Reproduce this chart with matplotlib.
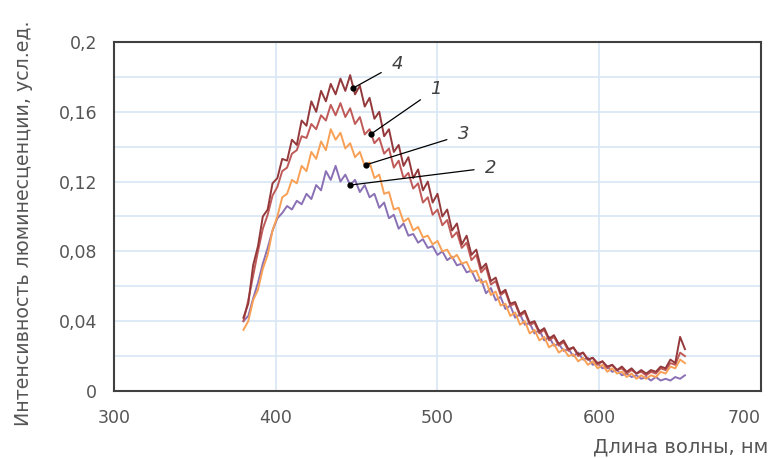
import numpy as np
import matplotlib
matplotlib.use("Agg")
import matplotlib.pyplot as plt
from matplotlib.ticker import MultipleLocator, FuncFormatter

# wavelength grid, nm (3 nm step)
wl = np.arange(380, 654, 3)

# luminescence spectra
curve4 = [0.042, 0.050, 0.072, 0.083, 0.100, 0.104, 0.119, 0.122, 0.133, 0.132,
          0.144, 0.141, 0.155, 0.152, 0.166, 0.160, 0.172, 0.166, 0.176, 0.170,
          0.179, 0.172, 0.181, 0.170, 0.175, 0.163, 0.168, 0.156, 0.160, 0.146,
          0.150, 0.137, 0.141, 0.129, 0.134, 0.122, 0.127, 0.115, 0.120, 0.108,
          0.113, 0.100, 0.104, 0.092, 0.096, 0.084, 0.089, 0.078, 0.081, 0.070,
          0.073, 0.063, 0.065, 0.056, 0.058, 0.050, 0.051, 0.044, 0.046, 0.039,
          0.040, 0.034, 0.036, 0.030, 0.032, 0.027, 0.029, 0.024, 0.025, 0.021,
          0.022, 0.018, 0.019, 0.016, 0.017, 0.014, 0.015, 0.012, 0.014, 0.011,
          0.013, 0.010, 0.012, 0.010, 0.012, 0.011, 0.014, 0.013, 0.018, 0.016,
          0.031, 0.024]
curve1 = [0.040, 0.052, 0.066, 0.080, 0.093, 0.101, 0.112, 0.117, 0.126, 0.128,
          0.136, 0.138, 0.146, 0.145, 0.153, 0.150, 0.158, 0.155, 0.164, 0.158,
          0.165, 0.157, 0.162, 0.153, 0.157, 0.147, 0.150, 0.142, 0.145, 0.136,
          0.139, 0.128, 0.132, 0.122, 0.125, 0.116, 0.119, 0.108, 0.111, 0.101,
          0.104, 0.095, 0.098, 0.088, 0.091, 0.082, 0.085, 0.075, 0.078, 0.068,
          0.071, 0.061, 0.063, 0.055, 0.057, 0.049, 0.050, 0.043, 0.045, 0.038,
          0.039, 0.033, 0.035, 0.029, 0.031, 0.026, 0.028, 0.023, 0.025, 0.020,
          0.022, 0.018, 0.019, 0.015, 0.017, 0.013, 0.015, 0.012, 0.013, 0.010,
          0.012, 0.010, 0.011, 0.009, 0.011, 0.010, 0.013, 0.012, 0.016, 0.015,
          0.022, 0.020]
curve3 = [0.035, 0.040, 0.052, 0.058, 0.070, 0.078, 0.092, 0.100, 0.111, 0.113,
          0.121, 0.119, 0.129, 0.126, 0.137, 0.133, 0.143, 0.138, 0.150, 0.144,
          0.148, 0.139, 0.142, 0.134, 0.137, 0.129, 0.131, 0.122, 0.124, 0.113,
          0.114, 0.104, 0.105, 0.097, 0.099, 0.092, 0.094, 0.088, 0.089, 0.084,
          0.086, 0.080, 0.081, 0.076, 0.078, 0.073, 0.074, 0.068, 0.069, 0.062,
          0.063, 0.055, 0.057, 0.049, 0.050, 0.043, 0.045, 0.038, 0.040, 0.033,
          0.035, 0.029, 0.031, 0.025, 0.027, 0.022, 0.024, 0.020, 0.021, 0.017,
          0.019, 0.015, 0.017, 0.013, 0.015, 0.011, 0.013, 0.010, 0.011, 0.008,
          0.010, 0.007, 0.009, 0.007, 0.009, 0.008, 0.011, 0.010, 0.014, 0.013,
          0.018, 0.016]
curve2 = [0.040, 0.043, 0.053, 0.062, 0.073, 0.082, 0.092, 0.099, 0.102, 0.106,
          0.104, 0.109, 0.107, 0.113, 0.110, 0.118, 0.115, 0.126, 0.121, 0.129,
          0.120, 0.124, 0.118, 0.121, 0.114, 0.118, 0.111, 0.113, 0.105, 0.108,
          0.099, 0.101, 0.093, 0.096, 0.089, 0.090, 0.085, 0.087, 0.082, 0.083,
          0.078, 0.080, 0.075, 0.077, 0.072, 0.073, 0.068, 0.069, 0.063, 0.064,
          0.056, 0.059, 0.052, 0.054, 0.047, 0.049, 0.042, 0.044, 0.038, 0.039,
          0.033, 0.035, 0.029, 0.031, 0.026, 0.027, 0.023, 0.024, 0.020, 0.022,
          0.018, 0.019, 0.015, 0.016, 0.013, 0.014, 0.011, 0.012, 0.009, 0.010,
          0.008, 0.009, 0.007, 0.008, 0.006, 0.008, 0.006, 0.007, 0.006, 0.008,
          0.007, 0.009]

# label, curve, colour, wavelength of the pointer dot, text position
labels = ["2", "3", "1", "4"]
curves = [curve2, curve3, curve1, curve4]
colors = ["#8a70b4", "#f8a055", "#bf5a58", "#94393b"]
dot_wl = [446, 456, 459, 448]
text_xy = [(533, 0.128), (516, 0.147), (499, 0.173), (475, 0.1875)]

x_ticks = [300, 400, 500, 600, 700]

fig = plt.figure(figsize=(7.72, 4.58), dpi=100)
ax = fig.add_axes([0.1477, 0.1463, 0.838, 0.762])

for lab, y, c in zip(labels, curves, colors):
    ax.plot(wl, y, color=c, lw=1.4, zorder=3)

for lab, y, xd, xt in zip(labels, curves, dot_wl, text_xy):
    yd = np.interp(xd, wl, y)
    ax.plot(xd, yd, "o", color="black", ms=3.5, zorder=5)
    ax.annotate(lab, xy=(xd, yd), xytext=xt, fontsize=13, style="italic",
                color="#404040", ha="center", va="center", zorder=5,
                arrowprops=dict(arrowstyle="-", color="black", lw=0.9,
                                shrinkA=6, shrinkB=0))

ax.set_xlim(300, 700)
ax.set_ylim(0, 0.2)
ax.set_xticks(x_ticks)
ax.yaxis.set_major_locator(MultipleLocator(0.04))
ax.yaxis.set_minor_locator(MultipleLocator(0.02))
ax.yaxis.set_major_formatter(FuncFormatter(
    lambda v, p: "0" if abs(v) < 1e-9 else ("%g" % round(v, 2)).replace(".", ",")))

ax.grid(True, axis="x", which="major", color="#d8e6f4", lw=1.2)
ax.grid(True, axis="y", which="both", color="#d8e6f4", lw=1.2)
ax.set_axisbelow(True)
ax.tick_params(which="both", length=0, labelsize=12.5, colors="#555555")
ax.tick_params(axis="y", pad=12)
ax.tick_params(axis="x", pad=13)
for s in ax.spines.values():
    s.set_color("#404040")
    s.set_linewidth(1.5)

# last x label kept inside the figure, as in the original
ax.xaxis.get_major_ticks()[-1].label1.set_horizontalalignment("right")

ax.set_ylabel("Интенсивность люминесценции, усл.ед.", fontsize=13.7,
              color="#555555")
ax.yaxis.set_label_coords(-0.125, 0.48)
fig.text(0.995, 0.004, "Длина волны, нм", fontsize=14, color="#555555",
         ha="right", va="bottom")

fig.savefig("out.png", dpi=100, facecolor="white")
